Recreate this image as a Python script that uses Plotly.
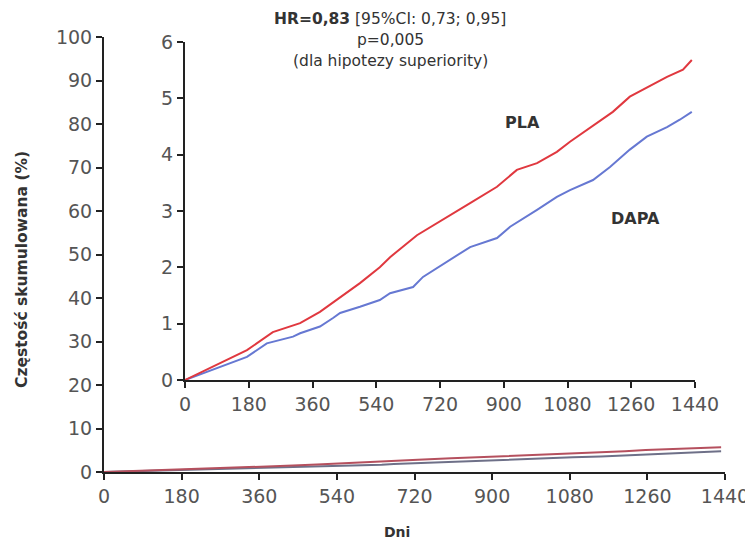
import plotly.graph_objects as go

# values (cumulative incidence, %)
days_pla = [0, 99, 175, 248, 325, 381, 438, 494, 550, 579, 655, 728, 805, 881, 937, 994,
            1050, 1087, 1135, 1208, 1256, 1293, 1361, 1406, 1431]
pla = [0, 0.30, 0.53, 0.85, 1.01, 1.21, 1.47, 1.72, 2.00, 2.18, 2.57, 2.84, 3.14, 3.43, 3.73, 3.85,
       4.05, 4.23, 4.44, 4.76, 5.03, 5.15, 5.38, 5.51, 5.68]

days_dapa = [0, 99, 175, 231, 268, 305, 325, 381, 418, 438, 494, 550, 579, 644, 672, 748, 805,
             881, 918, 994, 1050, 1087, 1152, 1200, 1256, 1304, 1361, 1397, 1431]
dapa = [0, 0.24, 0.41, 0.65, 0.71, 0.77, 0.83, 0.95, 1.10, 1.19, 1.30, 1.42, 1.54, 1.65, 1.83, 2.13, 2.36,
        2.52, 2.72, 3.02, 3.25, 3.37, 3.55, 3.78, 4.09, 4.32, 4.49, 4.62, 4.76]

x_ticks = [0, 180, 360, 540, 720, 900, 1080, 1260, 1440]
y_ticks_main = list(range(0, 101, 10))
y_ticks_inset = [0, 1, 2, 3, 4, 5, 6]

# the page body has an 8px margin, so the figure is a bit smaller than the window
OFF = 8
W, H = 753 - OFF, 543 - OFF
RED = '#e0383f'
BLUE = '#6678d2'

fig = go.Figure()

# main panel (0-100 %)
fig.add_trace(go.Scatter(x=days_dapa, y=dapa, mode='lines', line=dict(color='#6e7088', width=2),
                         xaxis='x', yaxis='y', showlegend=False))
fig.add_trace(go.Scatter(x=days_pla, y=pla, mode='lines', line=dict(color='#b5505e', width=2),
                         xaxis='x', yaxis='y', showlegend=False))

# inset (0-6 %)
fig.add_trace(go.Scatter(x=days_dapa, y=dapa, mode='lines', line=dict(color=BLUE, width=2),
                         xaxis='x2', yaxis='y2', showlegend=False))
fig.add_trace(go.Scatter(x=days_pla, y=pla, mode='lines', line=dict(color=RED, width=2),
                         xaxis='x2', yaxis='y2', showlegend=False))

axis_common = dict(showline=True, linecolor='#222', linewidth=2, ticks='outside',
                   ticklen=6, tickwidth=2, tickcolor='#222', showgrid=False, zeroline=False,
                   automargin=False,
                   tickfont=dict(family='DejaVu Sans', size=19, color='#555'))


# window pixel -> paper coordinate
def px_x(p):
    return (p - OFF) / W


def px_y(p):
    return 1 - (p - OFF) / H


fig.update_layout(
    width=W, height=H,
    margin=dict(l=0, r=0, t=0, b=0),
    paper_bgcolor='white', plot_bgcolor='rgba(0,0,0,0)',
    xaxis=dict(domain=[px_x(104), px_x(725)], range=[0, 1440], tickvals=x_ticks,
               anchor='y', **axis_common),
    yaxis=dict(domain=[px_y(472), px_y(37)], range=[0, 100], tickvals=y_ticks_main,
               anchor='x', **axis_common),
    xaxis2=dict(domain=[px_x(185), px_x(695)], range=[0, 1440], tickvals=x_ticks,
                anchor='y2', **axis_common),
    yaxis2=dict(domain=[px_y(380), px_y(42)], range=[0, 6], tickvals=y_ticks_inset,
                anchor='x2', **axis_common),
)

ann = [
    dict(x=px_x(390), y=px_y(19), text='<b>HR=0,83</b> [95%CI: 0,73; 0,95]', size=15.5),
    dict(x=px_x(390), y=px_y(40), text='p=0,005', size=15.5),
    dict(x=px_x(390), y=px_y(61), text='(dla hipotezy superiority)', size=15.5),
    dict(x=px_x(522), y=px_y(122), text='<b>PLA</b>', size=16),
    dict(x=px_x(635), y=px_y(218), text='<b>DAPA</b>', size=16),
    dict(x=px_x(397), y=px_y(532), text='<b>Dni</b>', size=14),
    dict(x=px_x(22), y=px_y(270), text='<b>Częstość skumulowana (%)</b>', size=15.5, textangle=-90),
]
for a in ann:
    size = a.pop('size')
    fig.add_annotation(xref='paper', yref='paper', showarrow=False,
                       font=dict(family='DejaVu Sans', size=size, color='#333'),
                       xanchor='center', yanchor='middle', **a)

fig.write_html("out.html")
